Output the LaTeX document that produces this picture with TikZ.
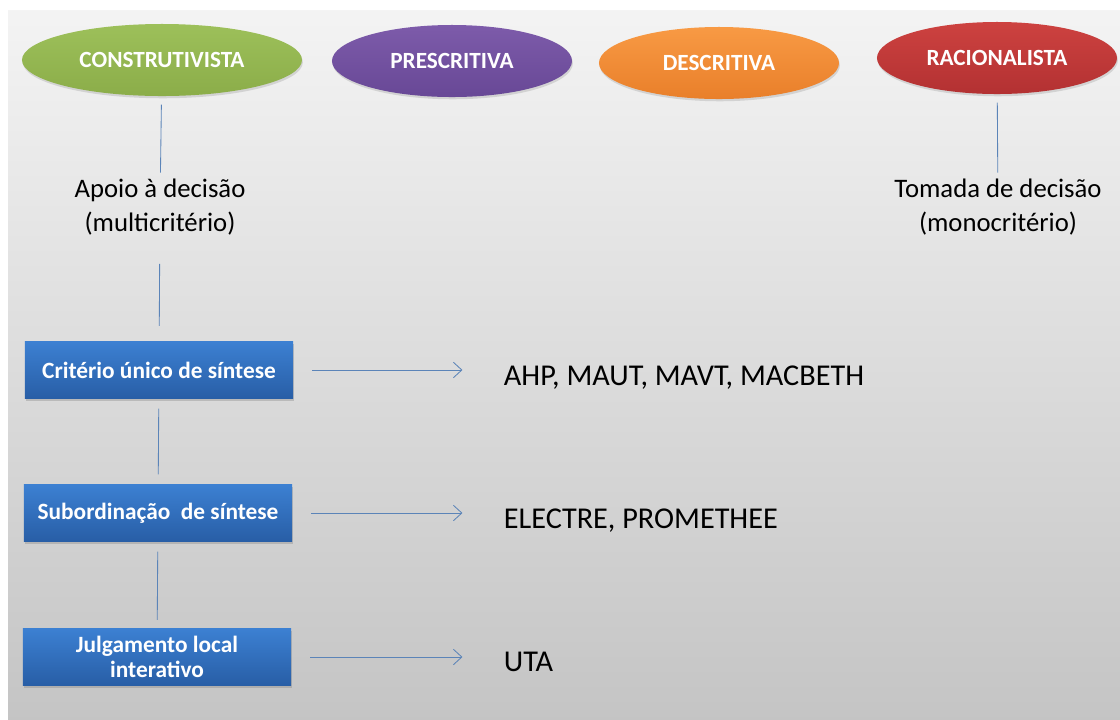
\documentclass[tikz,border=0pt]{standalone}
\usepackage{fontspec}
\setmainfont{Carlito}
\usetikzlibrary{positioning,shapes.geometric,shadows,arrows.meta}

\definecolor{ligacor}{HTML}{5B84B8}
\definecolor{boxtop}{HTML}{3C80D2}
\definecolor{boxbot}{HTML}{285EA6}

\begin{document}
\begin{tikzpicture}[x=0.025cm, y=-0.025cm,
    escola/.style={ellipse, inner sep=0pt, minimum height=1.8cm, text=white,
        font=\fontsize{16.5}{18}\selectfont\bfseries,
        drop shadow={opacity=0.25, shadow xshift=0.6pt, shadow yshift=-1.6pt}},
    metodo/.style={rectangle, inner sep=0pt, minimum width=6.7cm, minimum height=1.42cm,
        top color=boxtop, bottom color=boxbot, text=white, align=center,
        font=\fontsize{16.6}{19}\selectfont\bfseries,
        drop shadow={opacity=0.35, shadow xshift=1pt, shadow yshift=-1.5pt}},
    rotulo/.style={align=center, font=\fontsize{19}{24}\selectfont},
    saida/.style={anchor=base west, font=\fontsize{21.5}{24}\selectfont},
    ligacao/.style={draw=ligacor, line width=0.6pt},
    seta/.style={ligacao, -{Straight Barb[length=6pt, width=11pt]}}
]

% Background panel
\fill[white] (0,0) rectangle (1120,719);
\useasboundingbox (0,0) rectangle (1120,719);
\shade[top color=gray!9, bottom color=gray!46] (8,10) rectangle (1120,719);

% Schools of thought
\foreach \nome/\cx/\cy/\larg/\cima/\baixo/\texto in {
    constr/162/60/7cm/9DC05A/8BAD49/CONSTRUTIVISTA,
    prescr/452/61/6cm/7D5BAA/684896/PRESCRITIVA,
    descr/719/63/6cm/F89A44/E97F2A/DESCRITIVA,
    racion/997/58/6cm/CD4240/B33132/RACIONALISTA} {
    \definecolor{ctop}{HTML}{\cima}
    \definecolor{cbot}{HTML}{\baixo}
    \node[escola, minimum width=\larg, top color=ctop, bottom color=cbot] (\nome) at (\cx,\cy) {\texto};
}

% Decision aid vs decision making
\node[rotulo] (apoio) at (160,207) {Apoio à decisão\\(multicritério)};
\node[rotulo] (tomada) at (998,207) {Tomada de decisão\\(monocritério)};

\draw[ligacao, shorten <=6pt, shorten >=1pt] (constr) -- (apoio);
\draw[ligacao, shorten <=6pt, shorten >=1pt] (racion) -- (tomada);

% Families of methods
\node[metodo] (crit) at (159,370) {Critério único de síntese};
\node[metodo] (subord) at (158,513) {Subordinação\ \ de síntese};
\node[metodo] (julg) at (157,657) {Julgamento local\\[-1pt]interativo};

\draw[ligacao, shorten <=17pt, shorten >=11pt] (apoio) -- (crit);
\draw[ligacao, shorten <=7pt, shorten >=7pt] (crit) -- (subord);
\draw[ligacao, shorten <=7pt, shorten >=6pt] (subord) -- (julg);

% Methods
\node[saida] (ahp) at (499,385) {AHP, MAUT, MAVT, MACBETH};
\node[saida] (electre) at (499,528) {ELECTRE, PROMETHEE};
\node[saida] (uta) at (499,671) {UTA};

\foreach \de/\para in {crit/ahp, subord/electre, julg/uta} {
    \draw[seta, shorten <=13.5pt, shorten >=26pt] (\de.east) -- (\de.east -| \para.west);
}

\end{tikzpicture}
\end{document}
